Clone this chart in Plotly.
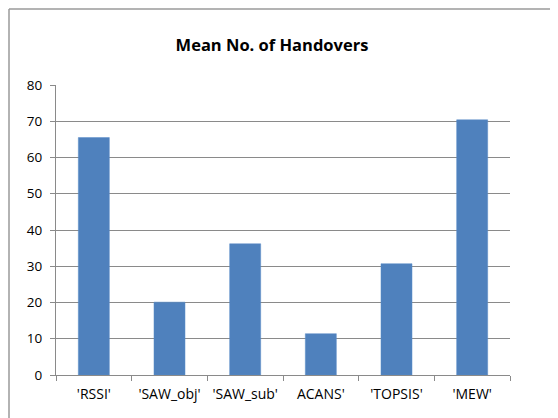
import plotly.graph_objects as go

categories = ["'RSSI'", "'SAW_obj'", "'SAW_sub'", "ACANS'", "'TOPSIS'", "'MEW'"]
values = [65.5, 20.1, 36.2, 11.4, 30.7, 70.4]

W, H = 558, 418
OFF = 8  # page offset of the figure inside the browser page
L, R, T, B = 56 - OFF, 558 - 510 + OFF, 85 - OFF, 418 - 375 + OFF
pw, ph = W - L - R, H - T - B

def px_x(x):
    return (x - OFF - L) / pw

def px_y(y):
    return (H - B - (y - OFF)) / ph

fig = go.Figure(go.Bar(x=categories, y=values, marker=dict(color="#4F81BD", line=dict(color="#5B8CC8", width=0.5)), width=0.41))

fig.update_layout(
    width=W, height=H,
    margin=dict(l=L, r=R, t=T, b=B),
    paper_bgcolor="white", plot_bgcolor="white",
    font=dict(family="Open Sans, Liberation Sans, sans-serif", size=13, color="#000"),
    title=dict(text="<b>Mean No. of Handovers</b>", x=(272 - OFF) / W, xref="container", y=1 - (45 - OFF) / H, yref="container",
               xanchor="center", yanchor="middle", font=dict(size=16.5, family="Open Sans, sans-serif")),
    showlegend=False,
    shapes=[
        dict(type="line", xref="paper", yref="paper", x0=px_x(9), x1=px_x(9), y0=px_y(9), y1=px_y(440),
             line=dict(color="#9a9a9a", width=1.5)),
        dict(type="line", xref="paper", yref="paper", x0=px_x(9), x1=px_x(580), y0=px_y(9), y1=px_y(9),
             line=dict(color="#9a9a9a", width=1.5)),
    ],
)
fig.update_yaxes(range=[0, 80], dtick=10, showgrid=True, gridcolor="#8a8a8a", gridwidth=1,
                 showline=True, linecolor="#8a8a8a", linewidth=1, ticks="outside", ticklen=5,
                 tickcolor="#8a8a8a", zeroline=False, fixedrange=True, tickfont=dict(size=13.5),
                 ticklabelstandoff=5)
fig.update_xaxes(range=[-0.5, 5.5], showline=True, linecolor="#8a8a8a", linewidth=1, ticks="outside",
                 ticklen=5, tickcolor="#8a8a8a", tickson="boundaries", showgrid=False, tickangle=0,
                 tickfont=dict(size=14), ticklabelstandoff=6)

fig.write_html("out.html")
